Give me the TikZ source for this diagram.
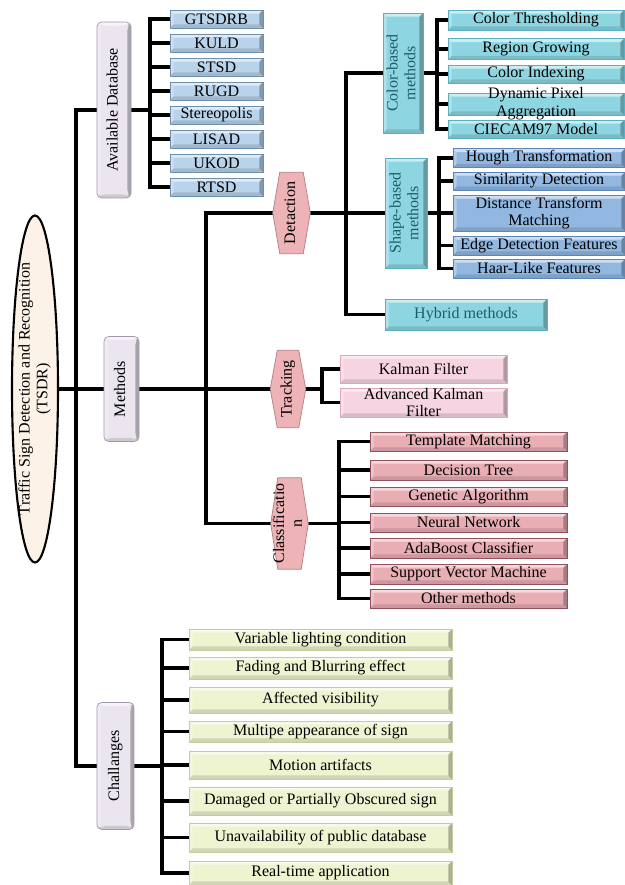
\documentclass[tikz,border=0pt]{standalone}
\usepackage{fontspec}
\setmainfont{Liberation Serif}
\usepackage{graphicx}
\usetikzlibrary{shapes.geometric}

\definecolor{dbFace}{HTML}{B9D3EA}
\definecolor{dbEdge}{HTML}{6F8FAE}
\definecolor{cyFace}{HTML}{8DD6E1}
\definecolor{cyEdge}{HTML}{5AAFC0}
\definecolor{stFace}{HTML}{92B8E2}
\definecolor{stEdge}{HTML}{5C86B8}
\definecolor{pkLight}{HTML}{F7D4E2}
\definecolor{pkLightEdge}{HTML}{DDA8BE}
\definecolor{pkFace}{HTML}{E9ADB4}
\definecolor{pkEdge}{HTML}{93505C}
\definecolor{hxFace}{HTML}{EDB3B6}
\definecolor{hxEdge}{HTML}{B07F86}
\definecolor{ygFace}{HTML}{EEF3D0}
\definecolor{ygEdge}{HTML}{C3CF98}
\definecolor{lvFace}{HTML}{EBE5EF}
\definecolor{lvEdge}{HTML}{A397AE}
\definecolor{rootFace}{HTML}{FCF2E7}
\definecolor{tealText}{HTML}{1D5D6B}

\newcommand{\pxu}{0.85pt}
\newcommand{\boxfont}{\fontsize{13.6}{15}\selectfont}
\newcommand{\vlabel}[1]{\rotatebox{90}{\begin{tabular}{@{}c@{}}#1\end{tabular}}}

\pgfdeclarelayer{wires}
\pgfdeclarelayer{hexes}
\pgfsetlayers{wires,hexes,main}

\tikzset{
  wire/.style={line width=2.7pt, draw=black, line join=miter},
  sz/.style 2 args={minimum width=#1*\pxu, minimum height=#2*\pxu},
  bevel/.style={path picture={
    \path (path picture bounding box.north west) coordinate (bvA)
          (path picture bounding box.north east) coordinate (bvB)
          (path picture bounding box.south east) coordinate (bvC)
          (path picture bounding box.south west) coordinate (bvD);
    \fill[white,opacity=.55] (bvA) -- (bvB) -- ([shift={(-3pt,-3pt)}]bvB) -- ([shift={(3pt,-3pt)}]bvA) -- cycle;
    \fill[white,opacity=.30] (bvA) -- ([shift={(3pt,-3pt)}]bvA) -- ([shift={(3pt,3pt)}]bvD) -- (bvD) -- cycle;
    \fill[black,opacity=.12] (bvD) -- ([shift={(3pt,3pt)}]bvD) -- ([shift={(-3pt,3pt)}]bvC) -- (bvC) -- cycle;
    \fill[black,opacity=.28] (bvB) -- (bvC) -- ([shift={(-3pt,3pt)}]bvC) -- ([shift={(-3pt,-3pt)}]bvB) -- cycle;
  }},
  btn/.style={rectangle, inner sep=0pt, align=center, font=\boxfont, line width=0.6pt, bevel},
  dbbox/.style={btn, fill=dbFace, draw=dbEdge, sz={93}{18}},
  cybox/.style={btn, fill=cyFace, draw=cyEdge},
  stbox/.style={btn, fill=stFace, draw=stEdge},
  pklbox/.style={btn, fill=pkLight, draw=pkLightEdge},
  pkbox/.style={btn, fill=pkFace, draw=pkEdge},
  ygbox/.style={btn, fill=ygFace, draw=ygEdge},
  lvbox/.style={btn, rounded corners=4pt, fill=lvFace, draw=lvEdge},
  hexcore/.style={rectangle, inner sep=0pt},
  hexskin/.style={fill=hxFace, draw=hxEdge, line width=0.6pt},
  overtext/.style={inner sep=0pt, align=center, font=\boxfont},
}

\begin{document}
\begin{tikzpicture}[x=0.85pt, y=-0.85pt]
\useasboundingbox (0,0) rectangle (624,885);

% ---- root and first level ----
\node[ellipse, draw=black, line width=1.8pt, fill=rootFace, sz={46}{347}, inner sep=0pt] (root) at (35,389) {};
\node[overtext] (rootText) at (root) {\vlabel{Traffic Sign Detection and Recognition\\(TSDR)}};

\node[lvbox, sz={34}{176}] (avdb) at (114,110) {\vlabel{Available Database}};
\node[lvbox, sz={35}{105}] (methods) at (121.5,389) {\vlabel{Methods}};
\node[lvbox, sz={37}{127}] (chall) at (115.5,766) {\vlabel{Challanges}};

% ---- databases ----
\foreach \n/\y/\t in {db1/19/GTSDRB, db2/43/KULD, db3/67/STSD, db4/91/RUGD,
                      db5/115/Stereopolis, db6/139/LISAD, db7/163/UKOD, db8/187/RTSD}
  \node[dbbox] (\n) at (216.5,\y) {\t};

% ---- method groups (hexagonal tabs) ----
\node[hexcore, sz={23}{81}] (det) at (291.5,213) {};
\node[overtext] (detText) at (det) {\vlabel{Detaction}};
\node[hexcore, sz={21}{77}] (trk) at (288,389) {};
\node[overtext] (trkText) at (trk) {\vlabel{Tracking}};
\node[hexcore, sz={23}{91}] (cls) at (289.5,523.5) {};
\node[overtext] (clsText) at (cls) {\vlabel{Classificatio\\n}};

% ---- detection ----
\node[cybox, sz={40}{120}, text=tealText] (col) at (403,73) {\vlabel{Color-based\\methods}};
\node[cybox, sz={42}{110}, text=tealText] (shp) at (406,213) {\vlabel{Shape-based\\methods}};
\node[cybox, sz={162}{31}, text=tealText] (hyb) at (466,314.5) {Hybrid methods};

\foreach \n/\y/\h/\t in {ct/20/20/Color Thresholding, rg/49/21/Region Growing,
                         ci/74/18/Color Indexing, cie/129/18/CIECAM97 Model}
  \node[cybox, sz={176}{\h}] (\n) at (536,\y) {\t};
\node[cybox, sz={176}{22}] (dpa) at (536,104) {};
\node[overtext] (dpaText) at (dpa) {Dynamic Pixel\\Aggregation};

\foreach \n/\y/\h/\t in {ht/158/19/Hough Transformation, sd/181/18/Similarity Detection,
                         edf/245.5/19/Edge Detection Features, hlf/268.5/19/Haar-Like Features}
  \node[stbox, sz={172}{\h}] (\n) at (539,\y) {\t};
\node[stbox, sz={172}{36}] (dtm) at (539,213) {Distance Transform\\Matching};

% ---- tracking ----
\node[pklbox, sz={167}{28}] (kf) at (423.5,369) {Kalman Filter};
\node[pklbox, sz={167}{29}] (akf) at (423.5,402.5) {};
\node[overtext] (akfText) at (akf) {Advanced Kalman\\Filter};

% ---- classification ----
\foreach \n/\y/\h/\t in {tm/441.5/19/Template Matching, dt/470/20/Decision Tree,
                         ga/496.5/19/Genetic Algorithm, nn/522.5/19/Neural Network,
                         ab/548/20/AdaBoost Classifier, svm/574/20/Support Vector Machine,
                         om/598.5/19/Other methods}
  \node[pkbox, sz={197}{\h}] (\n) at (468.5,\y) {\t};

% ---- challenges ----
\foreach \n/\y/\h/\t in {ch1/639.5/21/Variable lighting condition,
                         ch2/668/22/Fading and Blurring effect,
                         ch3/700/26/Affected visibility,
                         ch4/731.5/21/Multipe appearance of sign,
                         ch5/765/28/Motion artifacts,
                         ch6/801/28/Damaged or Partially Obscured sign,
                         ch7/837.5/29/Unavailability of public database,
                         ch8/873/24/Real-time application}
  \node[ygbox, sz={263}{\h}] (\n) at (320.5,\y) {\t};

% ---- bus positions ----
\coordinate (trunkX) at (76,0);
\coordinate (dbX) at (150,0);
\coordinate (mX) at (206,0);
\coordinate (dX) at (346,0);
\coordinate (cX) at (437,0);
\coordinate (sX) at (439,0);
\coordinate (tX) at (322,0);
\coordinate (kX) at (339,0);
\coordinate (hX) at (162,0);

% ---- hexagon bodies ----
\begin{pgfonlayer}{hexes}
  \foreach \h in {det,trk,cls}
    \filldraw[hexskin] (\h.north west) -- (\h.north east) -- ([xshift=6pt]\h.east)
      -- (\h.south east) -- (\h.south west) -- ([xshift=-6pt]\h.west) -- cycle;
\end{pgfonlayer}

% ---- connectors ----
\begin{pgfonlayer}{wires}
  \draw[wire] (avdb) -- (avdb -| trunkX) -- (chall -| trunkX) -- (chall);
  \draw[wire] (root) -- (methods);

  \draw[wire] (avdb) -- (avdb -| dbX);
  \foreach \n in {db1,db2,db3,db4,db5,db6,db7,db8}
    \draw[wire] (avdb -| dbX) |- (\n);

  \draw[wire] (methods) -- (trk);
  \draw[wire] (methods -| mX) |- (det);
  \draw[wire] (methods -| mX) |- (cls);

  \draw[wire] (det) -- (shp);
  \draw[wire] (det -| dX) |- (col);
  \draw[wire] (det -| dX) |- (hyb);

  \draw[wire] (col) -- (col -| cX);
  \foreach \n in {ct,rg,ci,dpa,cie}
    \draw[wire] (col -| cX) |- (\n);

  \draw[wire] (shp) -- (shp -| sX);
  \foreach \n in {ht,sd,dtm,edf,hlf}
    \draw[wire] (shp -| sX) |- (\n);

  \draw[wire] (trk) -- (trk -| tX);
  \foreach \n in {kf,akf}
    \draw[wire] (trk -| tX) |- (\n);

  \draw[wire] (cls) -- (cls -| kX);
  \foreach \n in {tm,dt,ga,nn,ab,svm,om}
    \draw[wire] (cls -| kX) |- (\n);

  \draw[wire] (chall) -- (chall -| hX);
  \foreach \n in {ch1,ch2,ch3,ch4,ch5,ch6,ch7,ch8}
    \draw[wire] (chall -| hX) |- (\n);
\end{pgfonlayer}
\end{tikzpicture}
\end{document}
